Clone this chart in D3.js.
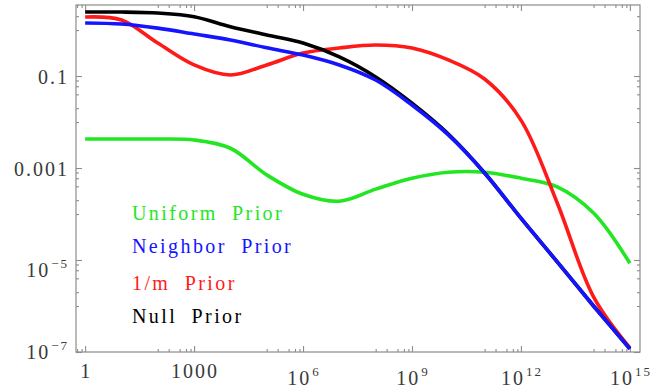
<!DOCTYPE html>
<html lang="en">
<head>
<meta charset="UTF-8">
<style>
    body { margin: 0; background: #fff; }
    text { font-family: "Liberation Serif", "Times New Roman", serif; }
</style>
</head>
<body>
<svg width="652" height="389"></svg>
<script src="https://d3js.org/d3.v7.min.js"></script>
<script>

// ---- data ----
var m = [1, 1e1, 1e2, 1e3, 1e4, 1e5, 1e6, 1e7, 1e8, 1e9, 1e10, 1e11, 1e12, 1e13, 1e14, 1e15];

var uniformPrior  = [4.27e-3, 4.27e-3, 4.27e-3, 4.07e-3, 2.69e-3, 7.1e-4, 2.69e-4, 1.9e-4,
                     3.47e-4, 6.0e-4, 8.1e-4, 8.1e-4, 6.0e-4, 3.9e-4, 1.05e-4, 8.5e-6];
var neighborPrior = [1.42, 1.35, 1.10, 0.82, 0.61, 0.41, 0.286, 0.174,
                     0.0818, 0.0234, 0.00525, 7.8e-4, 8.1e-5, 9.1e-6, 1.0e-6, 1.17e-7];
var invMPrior     = [1.92, 1.65, 0.52, 0.174, 0.105, 0.174, 0.316, 0.407,
                     0.472, 0.407, 0.224, 0.086, 0.011, 1.74e-4, 1.58e-6, 1.23e-7];
var nullPrior     = [2.46, 2.46, 2.34, 1.95, 1.18, 0.78, 0.52, 0.26,
                     0.0955, 0.0257, 0.0055, 7.8e-4, 8.1e-5, 9.1e-6, 1.0e-6, 1.17e-7];

var seriesNames = ["Uniform Prior", "Neighbor Prior", "1/m Prior", "Null Prior"];

var xTicks = [1, 1e3, 1e6, 1e9, 1e12, 1e15];
var xTickLabels = ["1", "1000", "10^6", "10^9", "10^12", "10^15"];
var yTicks = [1e-7, 1e-5, 1e-3, 1e-1];
var yTickLabels = ["10^\u22127", "10^\u22125", "0.001", "0.1"];

// ---- layout ----
var plotL = 76, plotR = 640, plotT = 5, plotB = 352;
var colors = ["#22e622", "#1414ff", "#ff1a1a", "#000000"];
var frameColor = "#8c8c8c";

var svg = d3.select("svg");

var x = d3.scaleLog().domain([0.56, 1.9e15]).range([plotL, plotR]);
var y = d3.scaleLog().domain([1e-7, 3.5]).range([plotB, plotT]);

// minor ticks: 1,2,4,6,8 x 10^(k-1) under each major
function minors(majors, scale) {
    var out = [];
    var d = scale.domain();
    majors.forEach(function(v) {
        [1, 2, 4, 6, 8].forEach(function(k) {
            var t = v / 10 * k;
            if (t > d[0] && t < d[1]) out.push(t);
        });
    });
    return out;
}
var xMinor = minors(xTicks, x);
var yMinor = minors(yTicks.concat([10]), y);

// frame
svg.append("rect")
    .attr("x", plotL).attr("y", plotT)
    .attr("width", plotR - plotL).attr("height", plotB - plotT)
    .attr("fill", "none")
    .attr("stroke", frameColor)
    .attr("stroke-width", 1.2);

function tickGroup(axis, tx, ty) {
    var g = svg.append("g")
        .attr("transform", "translate(" + tx + "," + ty + ")")
        .call(axis);
    g.select(".domain").remove();
    g.selectAll("line").attr("stroke", frameColor).attr("stroke-width", 1.1);
    g.selectAll("text").remove();
}

// ticks pointing inward on all four sides
[[xTicks, 6], [xMinor, 3]].forEach(function(p) {
    tickGroup(d3.axisBottom(x).tickValues(p[0]).tickSize(-p[1]).tickSizeOuter(0), 0, plotB);
    tickGroup(d3.axisTop(x).tickValues(p[0]).tickSize(-p[1]).tickSizeOuter(0), 0, plotT);
});
[[yTicks, 6], [yMinor, 3]].forEach(function(p) {
    tickGroup(d3.axisLeft(y).tickValues(p[0]).tickSize(-p[1]).tickSizeOuter(0), plotL, 0);
    tickGroup(d3.axisRight(y).tickValues(p[0]).tickSize(-p[1]).tickSizeOuter(0), plotR, 0);
});

// tick labels (with superscripts)
function addLabel(g, label) {
    var parts = label.split("^");
    g.append("tspan").text(parts[0]);
    if (parts.length > 1) {
        g.append("tspan")
            .attr("font-size", 13)
            .attr("dy", -9)
            .attr("dx", 1)
            .text(parts[1]);
    }
}

xTicks.forEach(function(v, i) {
    var lab = xTickLabels[i];
    var t = svg.append("text")
        .attr("x", x(v) + 1)
        .attr("y", lab.indexOf("^") >= 0 ? 385 : 378)
        .attr("text-anchor", "middle")
        .attr("font-size", 20)
        .attr("letter-spacing", 2)
        .attr("fill", "#3a3a3a");
    addLabel(t, lab);
});

yTicks.forEach(function(v, i) {
    var lab = yTickLabels[i];
    var sup = lab.indexOf("^") >= 0;
    var t = svg.append("text")
        .attr("x", 69)
        .attr("y", sup ? Math.min(y(v) + 17, 359) : y(v) + 7.5)
        .attr("text-anchor", "end")
        .attr("font-size", 20)
        .attr("letter-spacing", 2)
        .attr("fill", "#3a3a3a");
    addLabel(t, lab);
});

// curves (blue drawn last so it sits on top in the shared tail)
var line = d3.line()
    .x(function(d) { return x(d[0]); })
    .y(function(d) { return y(d[1]); })
    .curve(d3.curveCatmullRom.alpha(0.5));

var allSeries = [uniformPrior, neighborPrior, invMPrior, nullPrior];
[0, 2, 3, 1].forEach(function(i) {
    svg.append("path")
        .datum(m.map(function(v, j) { return [v, allSeries[i][j]]; }))
        .attr("d", line)
        .attr("fill", "none")
        .attr("stroke", colors[i])
        .attr("stroke-width", 3.6)
        .attr("stroke-linejoin", "round");
});

// legend text
var legendBase = [220, 253, 290, 323];
seriesNames.forEach(function(name, i) {
    svg.append("text")
        .attr("x", 132)
        .attr("y", legendBase[i])
        .attr("font-size", 20)
        .attr("letter-spacing", 2.4)
        .attr("word-spacing", 7)
        .attr("fill", colors[i])
        .text(name);
});

</script>
</body>
</html>
